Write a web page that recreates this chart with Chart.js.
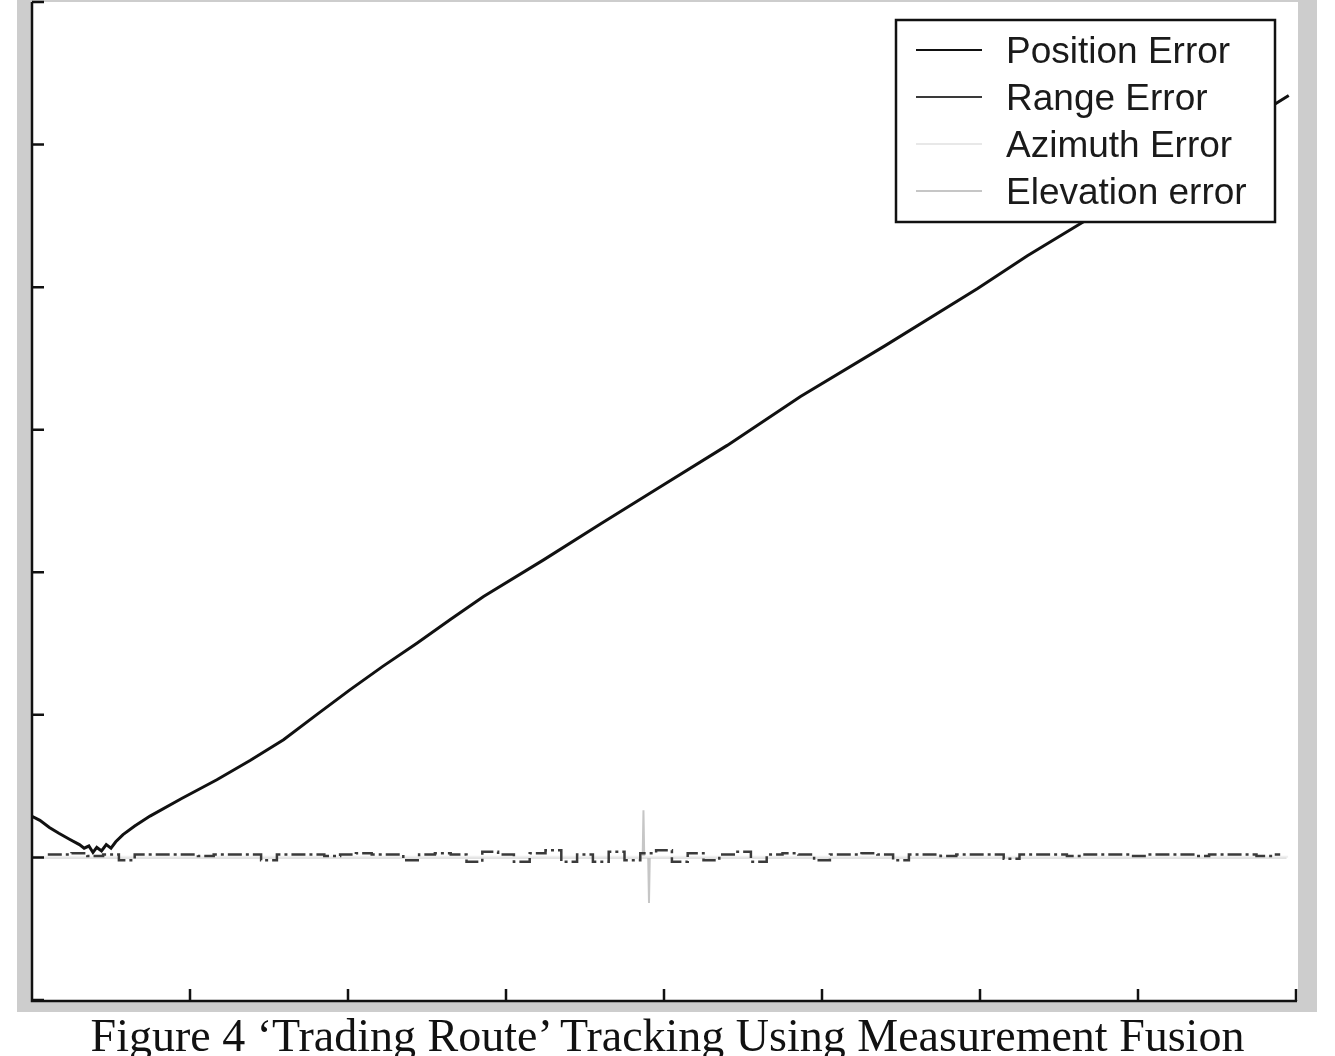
<!DOCTYPE html>
<html>
<head>
<meta charset="utf-8">
<script src="https://cdn.jsdelivr.net/npm/chart.js@4.4.1/dist/chart.umd.min.js"></script>
<style>
  body { margin: 0; background: #fff; width: 1335px; height: 1056px; overflow: hidden; position: relative; }
  #frame { position: absolute; left: 17px; top: 0; width: 1300px; height: 1012px; background: #cdcdcd; }
  #caption { position: absolute; left: 0; top: 1013px; width: 1335px; text-align: center;
             font-family: "Liberation Serif", serif; font-size: 46px; line-height: 46px;
             color: #111; white-space: nowrap; }
</style>
</head>
<body>
<div id="frame"><canvas id="errChart" width="1300" height="1012"></canvas></div>
<div id="caption">Figure 4 ‘Trading Route’ Tracking Using Measurement Fusion</div>
<script>
// tick positions (the figure has no tick labels)
var xTicks = [0, 100, 200, 300, 400, 500, 600, 700, 800];
var yTicks = [-100, 0, 100, 200, 300, 400, 500, 600];

// position error
var posTime = [0, 5, 11, 17, 24, 30, 33, 36, 38.6, 41, 44, 47, 50, 53, 57.6, 65, 74.7, 95, 117, 138,
               159.2, 180, 201.4, 222, 243.6, 265, 285.8, 323.8, 360, 399, 440, 486.4, 540, 598.5, 630,
               663.7, 720, 760, 795.4];
var posErr = [28.8, 26, 21, 17, 12.6, 9, 6.5, 8, 3.5, 7, 4.5, 9, 6.5, 11, 16, 22, 29, 41.5, 54.5, 68,
              82.6, 100, 117.7, 134, 150.3, 167, 183, 208.7, 234, 260.9, 289, 323.3, 359, 399, 422,
              444.6, 482, 510, 534.4];

// range error (noise around zero)
var rangeTime = [10, 20, 30, 40, 50, 60, 70, 80, 90, 100, 110, 120, 130, 140, 150, 160, 170, 180, 190, 200,
                 210, 220, 230, 240, 250, 260, 270, 280, 290, 300, 310, 320, 330, 340, 350, 360, 370, 380,
                 390, 400, 410, 420, 430, 440, 450, 460, 470, 480, 490, 500, 510, 520, 530, 540, 550, 560,
                 570, 580, 590, 600, 610, 620, 630, 640, 650, 660, 670, 680, 690, 700, 710, 720, 730, 740,
                 750, 760, 770, 780, 790];
var rangeErr = [2, 2, 3, 1, 2, -2, 2, 2, 2, 2, 1, 2, 2, 2, -2, 2, 2, 2, 1, 2,
                3, 2, 2, -2, 2, 3, 2, -3, 4, 2, -3, 3, 5, -3, 2, -3, 4, -2,
                3, 5, -3, 3, -2, 2, 4, -3, 2, 3, 2, -2, 2, 2, 3, 2, -2, 2,
                2, 1, 2, 2, 2, -1, 2, 2, 2, 1, 2, 2, 2, 1, 2, 2, 2, 1,
                2, 2, 2, 1, 2];

// azimuth error
var azTime = [0, 100, 200, 300, 400, 500, 600, 700, 795];
var azErr = [0.5, 0.5, 0.5, 0.5, 0.5, 0.5, 0.5, 0.5, 0.5];

// elevation error
var elevTime = [0, 100, 200, 300, 386.5, 387, 387.5, 390, 390.5, 391, 400, 500, 600, 700, 794];
var elevErr = [0, 0, 0, 0, 0, 33, 0, 0, -32, 0, 0, 0, 0, 0, 0];

function pairs(xs, ys) {
  return xs.map(function (x, i) { return { x: x, y: ys[i] }; });
}

var frameAxes = {
  id: 'frameAxes',
  beforeDraw: function (chart) {
    var a = chart.chartArea, c = chart.ctx;
    c.save();
    c.fillStyle = '#fff';
    c.fillRect(a.left, a.top, a.right - a.left + 2, a.bottom - a.top);
    c.restore();
  },
  afterDatasetsDraw: function (chart) {
    var a = chart.chartArea, c = chart.ctx;
    var xs = chart.scales.x, ys = chart.scales.y;
    c.save();
    c.strokeStyle = '#111';
    c.lineWidth = 2.5;
    c.beginPath();
    c.moveTo(a.left, a.top);
    c.lineTo(a.left, a.bottom + 1);
    c.lineTo(xs.getPixelForValue(800) + 1, a.bottom + 1);
    yTicks.forEach(function (v) {
      var py = ys.getPixelForValue(v);
      c.moveTo(a.left, py);
      c.lineTo(a.left + 12, py);
    });
    xTicks.forEach(function (v) {
      var px = xs.getPixelForValue(v);
      c.moveTo(px, a.bottom + 1);
      c.lineTo(px, a.bottom - 11);
    });
    c.stroke();
    c.restore();
  }
};

var boxLegend = {
  id: 'boxLegend',
  afterDraw: function (chart) {
    var c = chart.ctx;
    var bx = 879, by = 20, bw = 379, bh = 202;
    c.save();
    c.fillStyle = '#fff';
    c.fillRect(bx, by, bw, bh);
    c.strokeStyle = '#111';
    c.lineWidth = 2.5;
    c.strokeRect(bx, by, bw, bh);
    c.font = '37px "Liberation Sans", Arial, sans-serif';
    c.textBaseline = 'alphabetic';
    chart.data.datasets.forEach(function (ds, i) {
      var ry = 50 + i * 47;
      c.strokeStyle = ds.legendColor || ds.borderColor;
      c.lineWidth = 2;
      c.beginPath();
      c.moveTo(899, ry);
      c.lineTo(965, ry);
      c.stroke();
      c.fillStyle = '#1a1a1a';
      c.fillText(ds.label, 989, ry + 13);
    });
    c.restore();
  }
};

var options1 = {
  type: 'line',
  data: {
    datasets: [
      {
        label: 'Position Error',
        data: pairs(posTime, posErr),
        borderColor: '#111',
        borderWidth: 3
      },
      {
        label: 'Range Error',
        data: pairs(rangeTime, rangeErr),
        borderColor: '#3a3a3a',
        borderWidth: 2.5,
        stepped: 'middle',
        borderDash: [14, 4, 3, 4]
      },
      {
        label: 'Azimuth Error',
        data: pairs(azTime, azErr),
        borderColor: '#f0f0f0',
        legendColor: '#e8e8e8',
        borderWidth: 2
      },
      {
        label: 'Elevation error',
        data: pairs(elevTime, elevErr),
        borderColor: '#c6c6c6',
        borderWidth: 2
      }
    ]
  },
  options: {
    responsive: false,
    animation: false,
    devicePixelRatio: 1,
    layout: { padding: { left: 15, right: 21, top: 2, bottom: 12 } },
    elements: { point: { radius: 0 }, line: { tension: 0 } },
    plugins: {
      legend: { display: false },
      tooltip: { enabled: false }
    },
    scales: {
      x: { type: 'linear', min: 0, max: 800, display: false },
      y: { min: -100, max: 600, display: false }
    }
  },
  plugins: [frameAxes, boxLegend]
};

var ctx1 = document.getElementById('errChart').getContext('2d');
new Chart(ctx1, options1);
</script>
</body>
</html>
